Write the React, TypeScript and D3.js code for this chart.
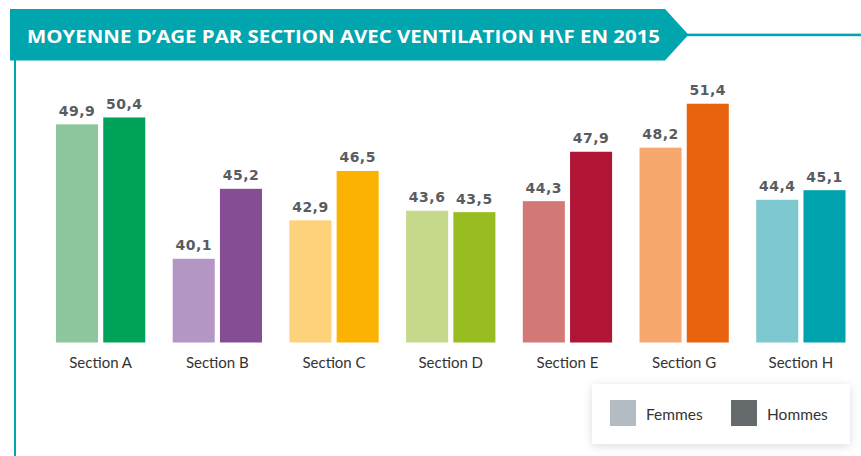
import React from "react";
import * as d3 from "d3";

const categories = ["Section A", "Section B", "Section C", "Section D", "Section E", "Section G", "Section H"];
const femmes = [49.9, 40.1, 42.9, 43.6, 44.3, 48.2, 44.4];
const hommes = [50.4, 45.2, 46.5, 43.5, 47.9, 51.4, 45.1];
const seriesNames = ["Femmes", "Hommes"];

const femmesColors = ["#8dc69c", "#b396c4", "#fdd27a", "#c6d889", "#d37876", "#f6a86e", "#7ec8d0"];
const hommesColors = ["#00a159", "#854d94", "#fbb200", "#97bd20", "#b01535", "#e9630f", "#00a3ad"];
const legendColors = ["#b4bcc3", "#656a6d"];

const TEAL = "#00a5ae";
const W = 861;
const H = 456;

const fr = d3.formatLocale({ decimal: ",", thousands: " ", grouping: [3], currency: ["", " €"] });
const fmt = fr.format(".1f");

export default function App() {
  const x0 = d3.scaleBand<string>().domain(categories).range([56, 845.5]).paddingInner(0.235).paddingOuter(0);
  const x1 = d3.scaleBand<string>().domain(seriesNames).range([0, x0.bandwidth()]).paddingInner(0.11).paddingOuter(0);
  const y = d3.scaleLinear().domain([34, 52]).range([342.5, 95.5]);

  const bars: { cat: string; s: string; v: number; c: string }[] = [];
  categories.forEach((cat, i) => {
    bars.push({ cat, s: "Femmes", v: femmes[i], c: femmesColors[i] });
    bars.push({ cat, s: "Hommes", v: hommes[i], c: hommesColors[i] });
  });

  return (
    <svg width={W} height={H} style={{ position: "absolute", left: 0, top: 0, background: "#fff" }}>
      <defs>
        <filter id="shadow" x="-20%" y="-40%" width="140%" height="180%">
          <feDropShadow dx="0" dy="2" stdDeviation="5" floodColor="#000" floodOpacity="0.14" />
        </filter>
      </defs>
      {/* banner */}
      <rect x={14} y={58} width={2} height={H - 58} fill={TEAL} />
      <rect x={686} y={33.6} width={W - 686} height={2.6} fill={TEAL} />
      <polygon points="10,9 665,9 688.5,34.8 665,60.5 10,60.5" fill={TEAL} />
      <text
        x={27}
        y={43.3}
        fill="#fff"
        fontFamily="'Open Sans', sans-serif"
        fontWeight={700}
        fontSize={18.5}
        textLength={633}
        lengthAdjust="spacingAndGlyphs"
      >
        MOYENNE D’AGE PAR SECTION AVEC VENTILATION H\F EN 2015
      </text>

      {/* bars */}
      {bars.map((b) => {
        const bx = (x0(b.cat) ?? 0) + (x1(b.s) ?? 0);
        return (
          <g key={b.cat + b.s}>
            <rect x={bx} y={y(b.v)} width={x1.bandwidth()} height={y(34) - y(b.v)} fill={b.c} />
            <text
              x={bx + x1.bandwidth() / 2}
              y={y(b.v) - 8.5}
              textAnchor="middle"
              fill="#585c60"
              fontFamily="'DejaVu Sans', sans-serif"
              fontWeight={700}
              fontSize={14}
              letterSpacing={0.5}
            >
              {fmt(b.v)}
            </text>
          </g>
        );
      })}

      {/* category labels */}
      {categories.map((c) => (
        <text
          key={c}
          x={(x0(c) ?? 0) + x0.bandwidth() / 2}
          y={368}
          textAnchor="middle"
          fill="#333"
          fontFamily="Lato, sans-serif"
          fontSize={15}
        >
          {c}
        </text>
      ))}

      {/* legend */}
      <rect x={592} y={384} width={258} height={60} fill="#fff" filter="url(#shadow)" />
      {seriesNames.map((s, i) => {
        const lx = [610, 731][i];
        return (
          <g key={s}>
            <rect x={lx} y={400} width={26} height={26} fill={legendColors[i]} />
            <text x={lx + 36} y={420} fill="#333" fontFamily="Lato, sans-serif" fontSize={15.5}>
              {s}
            </text>
          </g>
        );
      })}
    </svg>
  );
}
